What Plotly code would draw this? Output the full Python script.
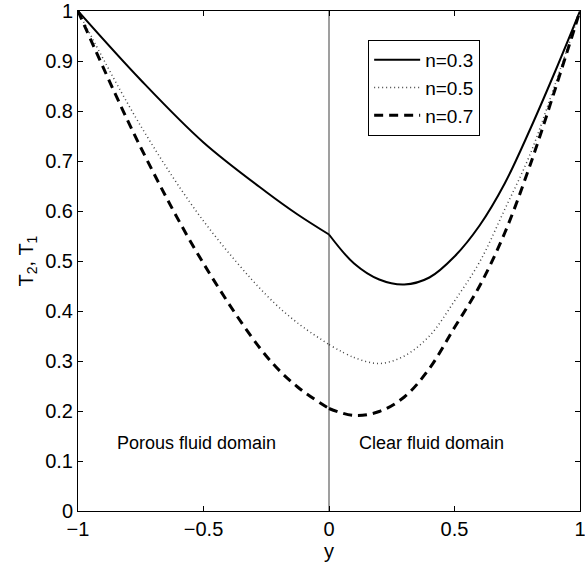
import plotly.graph_objects as go

# ---- data ----
x_porous = [-1.0, -0.75, -0.5, -0.25, -0.125, 0.0]
x_clear = [0.0, 0.1, 0.2, 0.3, 0.4, 0.5, 0.6, 0.7, 0.8, 0.9, 1.0]

n03_porous = [1.0, 0.862, 0.737, 0.638, 0.593, 0.553]
n03_clear = [0.553, 0.495, 0.463, 0.453, 0.467, 0.509, 0.571, 0.655, 0.762, 0.878, 1.0]

n05_porous = [1.0, 0.770, 0.580, 0.432, 0.376, 0.333]
n05_clear = [0.333, 0.307, 0.295, 0.310, 0.350, 0.420, 0.498, 0.603, 0.712, 0.852, 1.0]

n07_porous = [1.0, 0.727, 0.495, 0.310, 0.248, 0.205]
n07_clear = [0.205, 0.191, 0.199, 0.228, 0.285, 0.367, 0.450, 0.556, 0.690, 0.842, 1.0]

series_names = ["n=0.3", "n=0.5", "n=0.7"]
x_ticks = [-1, -0.5, 0, 0.5, 1]
x_tick_labels = ["\u22121", "\u22120.5", "0", "0.5", "1"]
y_ticks = [0, 0.1, 0.2, 0.3, 0.4, 0.5, 0.6, 0.7, 0.8, 0.9, 1]
y_tick_labels = ["0", "0.1", "0.2", "0.3", "0.4", "0.5", "0.6", "0.7", "0.8", "0.9", "1"]

FONT = "Liberation Sans, Arial, Helvetica, sans-serif"

styles = [
    dict(color="black", width=2, dash="solid"),
    dict(color="#444444", width=1.5, dash="1px,3px"),
    dict(color="black", width=3, dash="9px,6px"),
]
porous = [n03_porous, n05_porous, n07_porous]
clear = [n03_clear, n05_clear, n07_clear]

fig = go.Figure()
for name, st, yp, yc in zip(series_names, styles, porous, clear):
    fig.add_trace(go.Scatter(x=x_porous, y=yp, mode="lines", name=name,
                             legendgroup=name, showlegend=True,
                             line=dict(shape="spline", smoothing=1.0, **st)))
    fig.add_trace(go.Scatter(x=x_clear, y=yc, mode="lines", name=name,
                             legendgroup=name, showlegend=False,
                             line=dict(shape="spline", smoothing=1.0, **st)))

# interface line at y = 0
fig.add_shape(type="line", xref="x", yref="paper", x0=0, x1=0, y0=0, y1=1,
              line=dict(color="#7f7f7f", width=1.5), layer="below")

fig.add_annotation(x=-0.526, y=0.137, xref="x", yref="y", text="Porous fluid domain",
                   showarrow=False, font=dict(family=FONT, size=18, color="black"))
fig.add_annotation(x=0.41, y=0.137, xref="x", yref="y", text="Clear fluid domain",
                   showarrow=False, font=dict(family=FONT, size=18, color="black"))

axis_common = dict(showline=True, linecolor="black", linewidth=1, mirror="allticks",
                   ticks="inside", ticklen=5, tickwidth=1, tickcolor="black",
                   showgrid=False, zeroline=False, automargin=False,
                   ticklabeloverflow="allow",
                   tickfont=dict(family=FONT, size=20, color="black"))

fig.update_xaxes(range=[-1, 1], tickvals=x_ticks, ticktext=x_tick_labels,
                 title=dict(text="y", font=dict(family=FONT, size=20, color="black"), standoff=2),
                 **axis_common)
fig.update_yaxes(range=[0, 1], tickvals=y_ticks, ticktext=y_tick_labels,
                 title=dict(text="T<sub>2</sub>, T<sub>1</sub>",
                            font=dict(family=FONT, size=20, color="black"), standoff=6),
                 **axis_common)

fig.update_layout(
    width=585, height=563,
    margin=dict(l=78, r=5, t=11, b=52, pad=0),
    paper_bgcolor="white", plot_bgcolor="white",
    font=dict(family=FONT, size=20, color="black"),
    showlegend=True,
    legend=dict(x=0.578, y=0.942, xanchor="left", yanchor="top",
                bgcolor="white", bordercolor="black", borderwidth=1,
                font=dict(family=FONT, size=19, color="black"),
                tracegroupgap=0, itemwidth=46),
)

fig.write_html("out.html",
               config={"displayModeBar": False},
               post_script="document.body.style.margin='0';document.body.style.overflow='hidden';")
